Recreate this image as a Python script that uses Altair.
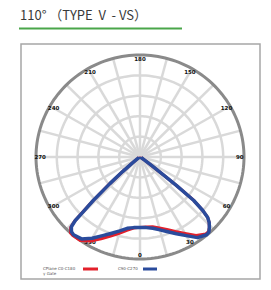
import altair as alt
import pandas as pd

TITLE = "110°  （TYPE Ⅴ - VS）"

# polar intensity data (angle from nadir, signed; units: outer ring = 100)
angles = [-90, -80, -70, -60, -56, -53, -51, -49.5, -48, -46.5, -45.5, -45, -44, -42, -40,
          -35, -30, -25, -20, -15, -10, -5,
          0,
          5, 10, 15, 20, 25, 30, 35,
          40, 42, 44, 46, 47.7, 49, 50.5, 51.5, 52, 53, 55, 60, 70, 80, 90]
c0_c180 = [1, 1, 1, 1.5, 2, 4, 10, 22, 40, 63, 78, 89, 96, 100, 100.5,
           100, 95, 88.5, 82.5, 77.5, 73, 70,
           69,
           69, 69.5, 72, 75.5, 80.5, 86.5, 94,
           98.5, 98.5, 96, 92.5, 88, 80, 67, 45, 30, 15, 5, 1.5, 1, 1, 1]
c90_c270 = [1, 1, 1, 1.5, 2, 4, 10, 22, 39, 62, 77, 88, 95, 98.5, 99.5,
            98, 92, 85, 79.5, 75, 71, 69.5,
            69,
            69.5, 71, 74, 78, 83, 89, 96.5,
            99.5, 99, 96, 92.5, 88, 80, 67, 45, 30, 15, 5, 1.5, 1, 1, 1]

ring_values = [20, 40, 60, 80]
outer_value = 100
spoke_angles = list(range(0, 360, 15))
label_angles = list(range(0, 360, 30))
legend_names = ["C0-C180", "C90-C270"]
legend_head = ["CPlane", "γ Gate"]
colors = ["#e3202b", "#2a4b9c"]

xs = alt.Scale(domain=[-100, 100], nice=False, zero=False)
ys = alt.Scale(domain=[-100, 100], nice=False, zero=False)
X = lambda f: alt.X(f, type="quantitative", scale=xs, axis=None)
Y = lambda f: alt.Y(f, type="quantitative", scale=ys, axis=None)

# grid rings
ring_rows = [{"r": r, "t": t} for r in ring_values for t in range(0, 362, 2)]
rings = alt.Chart(pd.DataFrame(ring_rows)).transform_calculate(
    x="datum.r*sin(datum.t*PI/180)", y="datum.r*cos(datum.t*PI/180)"
).mark_line(color="#d9d9d9", strokeWidth=2.5).encode(
    x=X("x"), y=Y("y"), detail="r:N", order="t:Q")

spokes = alt.Chart(pd.DataFrame({"a": spoke_angles})).transform_calculate(
    x0="0", y0="0",
    x=f"{outer_value}*sin(datum.a*PI/180)", y=f"-{outer_value}*cos(datum.a*PI/180)"
).mark_rule(color="#d9d9d9", strokeWidth=2.5).encode(
    x=X("x0"), y=Y("y0"), x2="x:Q", y2="y:Q")

outer_rows = [{"r": outer_value, "t": t} for t in range(0, 362, 2)]
outer = alt.Chart(pd.DataFrame(outer_rows)).transform_calculate(
    x="datum.r*sin(datum.t*PI/180)", y="datum.r*cos(datum.t*PI/180)"
).mark_line(color="#8a8a8a", strokeWidth=3).encode(
    x=X("x"), y=Y("y"), order="t:Q")

labels = alt.Chart(pd.DataFrame({"a": label_angles, "lab": [str(a) for a in label_angles]})).transform_calculate(
    x="96*sin(datum.a*PI/180)", y="-96*cos(datum.a*PI/180)"
).mark_text(fontSize=5.5, fontWeight="bold", color="#111", font="DejaVu Sans").encode(
    x=X("x"), y=Y("y"), text="lab:N")

df = pd.DataFrame({"a": angles, "red": c0_c180, "blue": c90_c270})

def curve(field, color, sw):
    return alt.Chart(df).transform_calculate(
        x=f"datum.{field}*sin(datum.a*PI/180)", y=f"-datum.{field}*cos(datum.a*PI/180)"
    ).mark_line(color=color, strokeWidth=sw, strokeJoin="round").encode(
        x=X("x"), y=Y("y"), order="a:Q")

red = curve("red", colors[0], 3)
blue = curve("blue", colors[1], 3.5)

one = alt.Data(values=[{}])
title = alt.Chart(one).mark_text(text=TITLE, fontSize=13, font="Noto Sans CJK SC", color="#3a3a3a",
                                 align="left", baseline="alphabetic").encode(
    x=alt.value(-16), y=alt.value(-35))
underline = alt.Chart(one).mark_rule(color="#4aa64a", strokeWidth=2).encode(
    x=alt.value(-17), x2=alt.value(146), y=alt.value(-26.5))
box = alt.Chart(one).mark_rect(fill=None, stroke="#a6a6a6", strokeWidth=1.5).encode(
    x=alt.value(-15), x2=alt.value(224), y=alt.value(-11), y2=alt.value(224))

leg = []
def ltext(t, x, y):
    return alt.Chart(one).mark_text(text=t, fontSize=4, color="#555", align="left",
                                    font="DejaVu Sans").encode(x=alt.value(x), y=alt.value(y))
leg.append(ltext(legend_head[0], 7, 214))
leg.append(ltext(legend_head[1], 7, 219))
leg.append(ltext(legend_names[0], 22, 214))
leg.append(ltext(legend_names[1], 82, 214))
leg.append(alt.Chart(one).mark_rule(color=colors[0], strokeWidth=3).encode(
    x=alt.value(47), x2=alt.value(62), y=alt.value(214)))
leg.append(alt.Chart(one).mark_rule(color=colors[1], strokeWidth=3).encode(
    x=alt.value(107), x2=alt.value(121), y=alt.value(214)))

chart = alt.layer(box, rings, spokes, outer, labels, red, blue, title, underline, *leg).properties(
    width=208, height=204,
    padding={"left": 36, "top": 55, "right": 27, "bottom": 31},
    autosize="none", background="white"
).configure_view(stroke=None)

chart.save("out.html", embed_options={"renderer": "svg", "actions": False})
